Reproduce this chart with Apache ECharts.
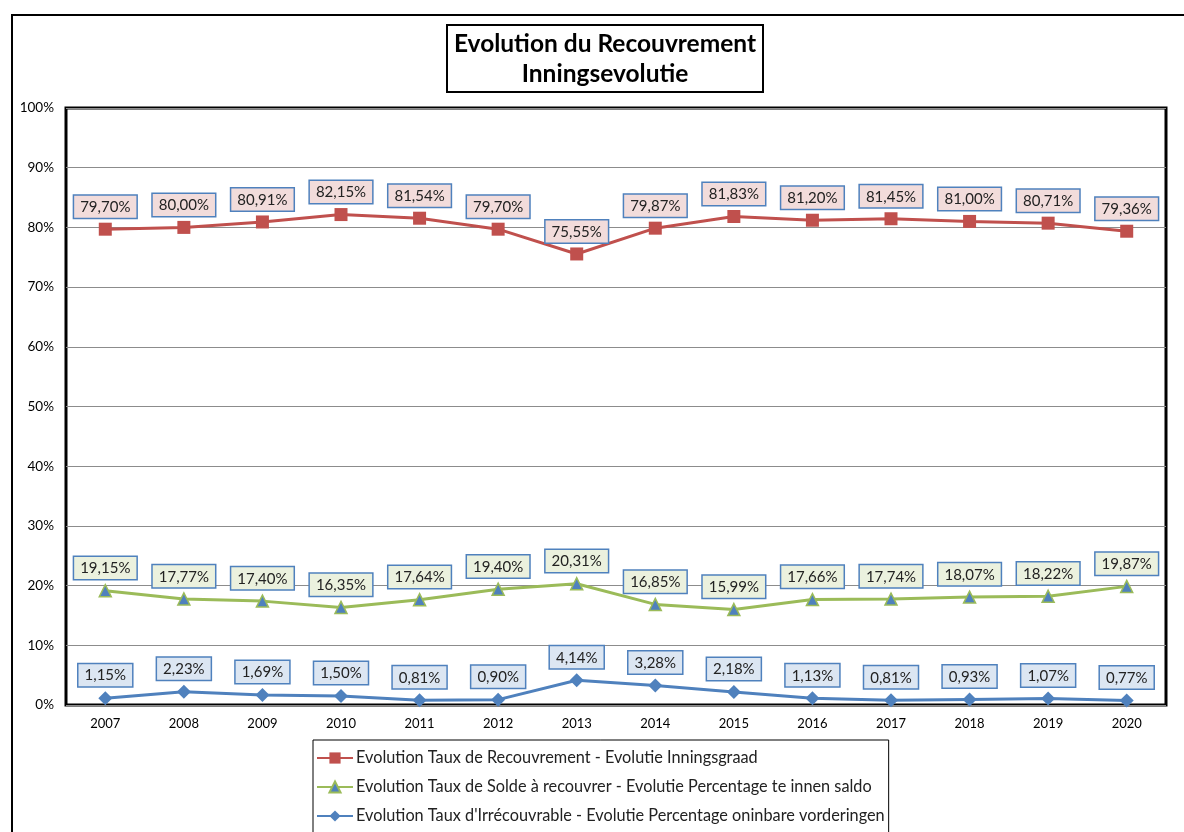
<!DOCTYPE html>
<html>
<head>
<meta charset="utf-8">
<script src="https://cdn.jsdelivr.net/npm/echarts@6/dist/echarts.min.js"></script>
<style>
  html, body { margin: 0; padding: 0; background: #fff; }
  #chart { width: 1184px; height: 832px; }
</style>
</head>
<body>
<div id="chart"></div>
<script>
const years = ['2007', '2008', '2009', '2010', '2011', '2012', '2013', '2014', '2015', '2016', '2017', '2018', '2019', '2020']
const recouvrement = [79.70, 80.00, 80.91, 82.15, 81.54, 79.70, 75.55, 79.87, 81.83, 81.20, 81.45, 81.00, 80.71, 79.36]
const solde = [19.15, 17.77, 17.40, 16.35, 17.64, 19.40, 20.31, 16.85, 15.99, 17.66, 17.74, 18.07, 18.22, 19.87]
const irrecouvrable = [1.15, 2.23, 1.69, 1.50, 0.81, 0.90, 4.14, 3.28, 2.18, 1.13, 0.81, 0.93, 1.07, 0.77]
const seriesNames = [
  'Evolution Taux de Recouvrement - Evolutie Inningsgraad',
  'Evolution Taux de Solde à recouvrer - Evolutie Percentage te innen saldo',
  "Evolution Taux d'Irrécouvrable - Evolutie Percentage oninbare vorderingen"
]

const font = 'Lato, "Open Sans", sans-serif'

// étiquette encadrée façon Excel
function labelStyle(fill) {
  return {
    show: true,
    position: 'top',
    distance: 5,
    formatter: p => p.value.toFixed(2).replace('.', ',') + '%',
    fontFamily: font,
    fontSize: 15,
    color: '#222',
    backgroundColor: fill,
    borderColor: '#4f81bd',
    borderWidth: 1.5,
    padding: [4, 6, 3, 6]
  }
}

const chart = echarts.init(document.getElementById('chart'))
const option = {
  animation: false,
  backgroundColor: '#fff',
  textStyle: { fontFamily: font },
  title: {
    text: 'Evolution du Recouvrement\nInningsevolutie',
    left: 598,
    textAlign: 'center',
    top: 25,
    padding: [4, 7, 3, 7],
    borderColor: '#000',
    borderWidth: 2,
    textStyle: {
      fontFamily: font,
      fontSize: 24.5,
      fontWeight: 'bold',
      color: '#000',
      lineHeight: 30
    }
  },
  graphic: [
    {
      type: 'rect',
      shape: { x: 12, y: 15, width: 1200, height: 840 },
      style: { fill: 'none', stroke: '#000', lineWidth: 2 },
      silent: true
    }
  ],
  legend: {
    orient: 'vertical',
    left: 313,
    top: 740,
    height: 160,
    padding: [10, 4, 12, 3],
    itemGap: 13,
    itemWidth: 36,
    itemHeight: 14,
    borderColor: '#000',
    borderWidth: 1,
    backgroundColor: '#fff',
    textStyle: { fontFamily: font, fontSize: 16.3, color: '#222', padding: [0, 0, 0, -2] },
    data: seriesNames
  },
  grid: {
    left: 66,
    right: 18,
    top: 108,
    bottom: 127,
    show: true,
    borderColor: '#000',
    borderWidth: 3
  },
  xAxis: {
    type: 'category',
    data: years,
    boundaryGap: true,
    axisLine: { show: false },
    axisTick: { show: false },
    axisLabel: { fontFamily: font, fontSize: 13, color: '#000', margin: 12 }
  },
  yAxis: {
    type: 'value',
    min: 0,
    max: 100,
    interval: 10,
    axisLine: { show: false },
    axisTick: { show: false },
    axisLabel: { formatter: '{value}%', fontFamily: font, fontSize: 13.5, color: '#000', margin: 12 },
    splitLine: { lineStyle: { color: '#8c8c8c', width: 1 } }
  },
  series: [
    {
      name: seriesNames[0],
      type: 'line',
      data: recouvrement,
      symbol: 'rect',
      symbolSize: 13,
      lineStyle: { color: '#c0504d', width: 3 },
      itemStyle: { color: '#c0504d' },
      label: labelStyle('#f2dcdb')
    },
    {
      name: seriesNames[1],
      type: 'line',
      data: solde,
      symbol: 'triangle',
      symbolSize: 12,
      lineStyle: { color: '#9bbb59', width: 3 },
      itemStyle: { color: '#4f81bd', borderColor: '#9bbb59', borderWidth: 1.5 },
      label: labelStyle('#ebf1de')
    },
    {
      name: seriesNames[2],
      type: 'line',
      data: irrecouvrable,
      symbol: 'diamond',
      symbolSize: 14,
      lineStyle: { color: '#4f81bd', width: 3 },
      itemStyle: { color: '#4f81bd' },
      label: labelStyle('#dce6f2')
    }
  ]
}
chart.setOption(option)
</script>
</body>
</html>
